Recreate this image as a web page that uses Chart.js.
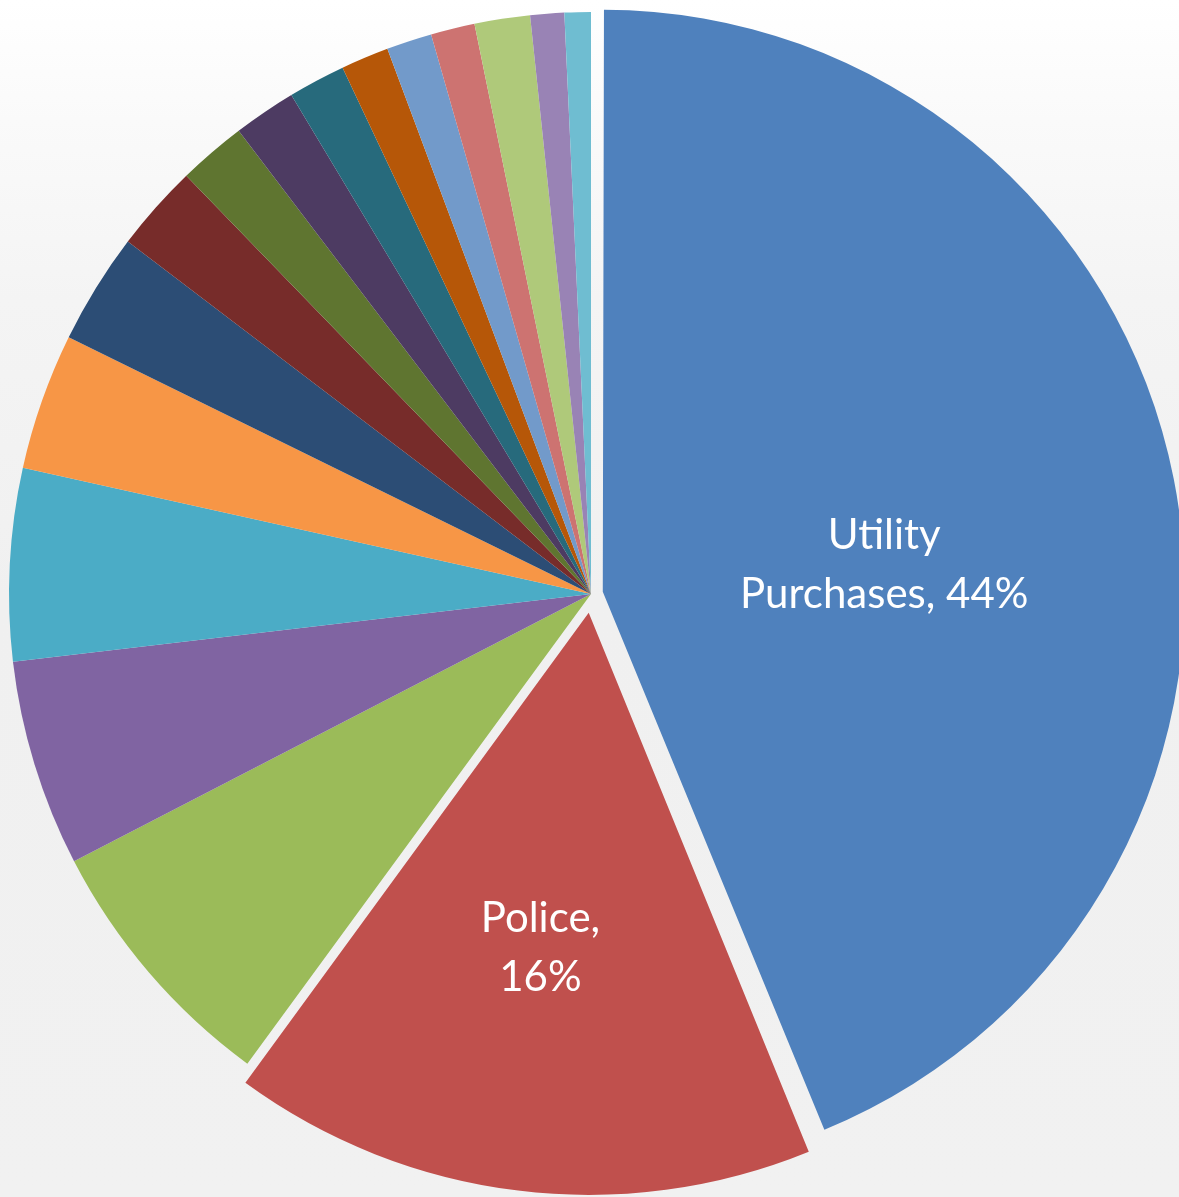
<!DOCTYPE html>
<html>
<head>
<meta charset="utf-8">
<title>Budget pie</title>
<script src="https://cdn.jsdelivr.net/npm/chart.js@4.4.1/dist/chart.umd.min.js"></script>
<style>
  html, body { margin: 0; padding: 0; }
  body {
    width: 1179px;
    height: 1197px;
    overflow: hidden;
    background: linear-gradient(to bottom, #ffffff 0%, #fafafa 10%, #f4f4f4 25%, #f0f0f0 50%, #f1f1f1 100%);
  }
  canvas { display: block; }
</style>
</head>
<body>
<canvas id="budgetPie" width="1179" height="1197"></canvas>
<script>
// only the two big slices are named in the picture
const categories = [
  "Utility Purchases", "Police", "Category 3", "Category 4", "Category 5",
  "Category 6", "Category 7", "Category 8", "Category 9", "Category 10",
  "Category 11", "Category 12", "Category 13", "Category 14", "Category 15",
  "Category 16", "Category 17"
];
// share of total
const shares = [
  43.82, 16.24, 7.35, 5.74, 5.34,
  3.79, 3.08, 2.41, 1.89, 1.74,
  1.59, 1.33, 1.26, 1.22, 1.54,
  0.94, 0.73
];
const sliceColors = [
  "#4F81BD", "#C0504D", "#9BBB59", "#8064A2", "#4BACC6", "#F79646",
  "#2C4D75", "#772C2A", "#5F7530", "#4D3B62", "#276A7C", "#B65708",
  "#729ACA", "#CD7371", "#AFC97A", "#9983B5", "#6FBDD1"
];
// how far a slice is pulled out, in px
const explode = [12, 19, 0, 0, 0, 0, 0, 0, 0, 0, 0, 0, 0, 0, 0, 0, 0];
const labelledSlices = {
  "Utility Purchases": { frac: 0.486, turn: 5.1, maxWidth: 300 },
  "Police": { frac: 0.579, turn: 1.2, maxWidth: 160 }
};

const FONT_SIZE = 42;
const LINE_HEIGHT = 59;

// chart.js moves an arc by offset/4 and also grows its radius; keep radius equal
const keepRadius = {
  id: "keepRadius",
  beforeDatasetDraw(chart, args) {
    const base = args.meta.controller.outerRadius;
    args.meta.data.forEach((arc) => {
      const shift = (arc.options.offset || 0) / 4;
      const fix = 1 - Math.sin(Math.min(Math.PI, arc.circumference));
      arc.outerRadius = base - shift * fix;
    });
  }
};

const wrapText = (ctx, text, maxWidth) => {
  const words = text.split(" ");
  const lines = [];
  let line = "";
  words.forEach((w) => {
    const test = line ? line + " " + w : w;
    if (line && ctx.measureText(test).width > maxWidth) {
      lines.push(line);
      line = w;
    } else {
      line = test;
    }
  });
  if (line) lines.push(line);
  return lines;
};

const sliceLabels = {
  id: "sliceLabels",
  afterDatasetsDraw(chart) {
    const { ctx } = chart;
    const meta = chart.getDatasetMeta(0);
    const total = shares.reduce((a, b) => a + b, 0);
    const base = meta.controller.outerRadius;
    ctx.save();
    ctx.fillStyle = "#ffffff";
    ctx.font = FONT_SIZE + "px Lato, 'Open Sans', sans-serif";
    ctx.textAlign = "center";
    ctx.textBaseline = "alphabetic";
    meta.data.forEach((arc, i) => {
      const cfg = labelledSlices[categories[i]];
      if (!cfg) return;
      const mid = (arc.startAngle + arc.endAngle) / 2 + (cfg.turn * Math.PI) / 180;
      const dist = (arc.options.offset || 0) / 4 + cfg.frac * base;
      const cx = arc.x + Math.cos(mid) * dist;
      const cy = arc.y + Math.sin(mid) * dist;
      const pct = Math.round((shares[i] / total) * 100) + "%";
      const lines = wrapText(ctx, categories[i] + ", " + pct, cfg.maxWidth);
      const capHalf = FONT_SIZE * 0.36;
      lines.forEach((ln, k) => {
        const y = cy - ((lines.length - 1) / 2) * LINE_HEIGHT + k * LINE_HEIGHT + capHalf;
        ctx.fillText(ln, cx, y);
      });
    });
    ctx.restore();
  }
};

new Chart(document.getElementById("budgetPie"), {
  type: "pie",
  data: {
    labels: categories,
    datasets: [
      {
        data: shares,
        backgroundColor: sliceColors,
        borderWidth: 0,
        offset: explode.map((v) => v * 4)
      }
    ]
  },
  options: {
    responsive: false,
    devicePixelRatio: 1,
    animation: false,
    events: [],
    radius: 582,
    layout: { padding: { left: 3, right: 0, top: 0, bottom: 9 } },
    plugins: {
      legend: { display: false },
      tooltip: { enabled: false }
    }
  },
  plugins: [keepRadius, sliceLabels]
});
</script>
</body>
</html>
